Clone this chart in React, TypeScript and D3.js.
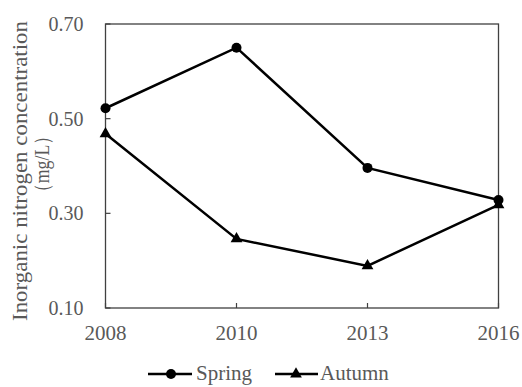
import React from 'react';
import * as d3 from 'd3';

const years = ['2008', '2010', '2013', '2016'];
const springValues = [0.522, 0.65, 0.396, 0.328];
const autumnValues = [0.468, 0.246, 0.189, 0.318];
const yTicks = [0.1, 0.3, 0.5, 0.7];

const W = 522;
const H = 387;
const margin = { top: 24, right: 23.5, bottom: 79, left: 105.5 };
const font = '"Liberation Serif", "Times New Roman", serif';
const grey = '#595959';

const App = () => {
  const x = d3
    .scalePoint()
    .domain(years)
    .range([margin.left, W - margin.right]);

  const y = d3
    .scaleLinear()
    .domain([0.1, 0.7])
    .range([H - margin.bottom, margin.top]);

  const line = d3
    .line<number>()
    .x((d, i) => x(years[i]) as number)
    .y(d => y(d));

  const tri = d3.symbol().type(d3.symbolTriangle).size(60)() as string;
  const bottom = H - margin.bottom;

  return (
    <svg width={W} height={H} style={{ position: 'absolute', left: 0, top: 0, background: '#fff' }}>
      {/* frame */}
      <rect
        x={margin.left}
        y={margin.top}
        width={W - margin.right - margin.left}
        height={bottom - margin.top}
        fill="none"
        stroke="#404040"
        strokeWidth={1.3}
      />

      {/* y ticks */}
      {yTicks.map(t => (
        <g key={t}>
          <line x1={margin.left} x2={margin.left + 5} y1={y(t)} y2={y(t)} stroke="#404040" strokeWidth={1.2} />
          <text
            x={margin.left - 22}
            y={y(t)}
            dy="0.35em"
            textAnchor="end"
            fontFamily={font}
            fontSize={20}
            fill={grey}
          >
            {t.toFixed(2)}
          </text>
        </g>
      ))}

      {/* x ticks */}
      {years.map(yr => (
        <g key={yr}>
          <line x1={x(yr)} x2={x(yr)} y1={bottom} y2={bottom - 5} stroke="#404040" strokeWidth={1.2} />
          <text
            x={x(yr)}
            y={bottom + 31.5}
            textAnchor="middle"
            fontFamily={font}
            fontSize={21}
            fill={grey}
          >
            {yr}
          </text>
        </g>
      ))}

      {/* y title */}
      <g fontFamily={font} fontSize={21} fill={grey} textAnchor="middle">
        <text
          transform={`translate(20,171) rotate(-90)`}
          dominantBaseline="central"
          textLength={300}
          lengthAdjust="spacingAndGlyphs"
        >
          Inorganic nitrogen concentration
        </text>
        <text
          transform={`translate(42,164) rotate(-90)`}
          dominantBaseline="central"
          textLength={74}
          lengthAdjust="spacingAndGlyphs"
        >
          （mg/L）
        </text>
      </g>

      {/* series */}
      <path d={line(springValues) as string} fill="none" stroke="#000" strokeWidth={2.5} />
      <path d={line(autumnValues) as string} fill="none" stroke="#000" strokeWidth={2.5} />
      {springValues.map((v, i) => (
        <circle key={i} cx={x(years[i])} cy={y(v)} r={5} fill="#000" />
      ))}
      {autumnValues.map((v, i) => (
        <path key={i} d={tri} transform={`translate(${x(years[i])},${y(v)})`} fill="#000" />
      ))}

      {/* legend */}
      <g>
        <line x1={148} x2={192} y1={374} y2={374} stroke="#000" strokeWidth={2.5} />
        <circle cx={171} cy={374} r={5} fill="#000" />
        <text x={196} y={374} dy="0.3em" fontFamily={font} fontSize={21} fill={grey}>
          Spring
        </text>
        <line x1={275} x2={318} y1={374} y2={374} stroke="#000" strokeWidth={2.5} />
        <path d={tri} transform="translate(296,374)" fill="#000" />
        <text x={320} y={374} dy="0.3em" fontFamily={font} fontSize={21} fill={grey}>
          Autumn
        </text>
      </g>
    </svg>
  );
};

export default App;
